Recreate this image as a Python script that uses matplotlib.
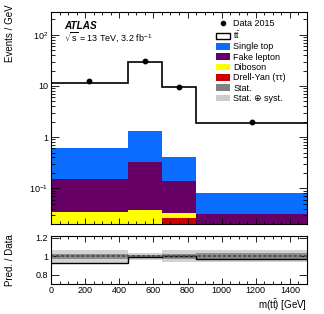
import matplotlib
matplotlib.use("Agg")
import matplotlib.pyplot as plt
from matplotlib.lines import Line2D
from matplotlib.patches import Patch
from matplotlib.ticker import MultipleLocator, LogLocator, FixedLocator, FuncFormatter, NullFormatter
import numpy as np

plt.rcParams["font.family"] = ["Liberation Sans", "DejaVu Sans"]
plt.rcParams["mathtext.fontset"] = "custom"
plt.rcParams["mathtext.rm"] = "Liberation Sans"
plt.rcParams["mathtext.it"] = "Liberation Sans:italic"
plt.rcParams["mathtext.bf"] = "Liberation Sans:bold"

# m(ttbar) binning [GeV]
bin_edges = [0, 450, 650, 850, 1500]

# stacked predictions, events / GeV
drell_yan = [0.012, 0.014, 0.0266, 0.004]
diboson = [0.022, 0.024, 0.0064, 0.004]
fake_lepton = [0.116, 0.292, 0.106, 0.023]
single_top = [0.45, 1.0, 0.27, 0.05]
ttbar = [11.0, 28.67, 9.29, 1.82]

data_2015 = [12.5, 30.2, 9.7, 1.95]

# relative uncertainties on the prediction
stat_unc = [0.025, 0.015, 0.03, 0.04]
total_unc = [0.07, 0.04, 0.065, 0.065]

FS = 6.5
W, H = 324, 314

edges = np.array(bin_edges, dtype=float)
centers = 0.5 * (edges[1:] + edges[:-1])

fig = plt.figure(figsize=(W / 100, H / 100), dpi=100)
ax = fig.add_axes([51 / W, 1 - 224 / H, 256 / W, 212 / H])
rax = fig.add_axes([51 / W, 1 - 284 / H, 256 / W, 48 / H])

# stack, bottom to top
layers = [
    (drell_yan, "#cc0000"),
    (diboson, "#ffff00"),
    (fake_lepton, "#660066"),
    (single_top, "#0a6dff"),
    (ttbar, "white"),
]
bottom = np.full(4, 1e-6)
for values, color in layers:
    top = bottom + np.asarray(values)
    ax.stairs(top, edges, baseline=bottom, fill=True, color=color, lw=0)
    bottom = top
pred_total = bottom

ax.stairs(pred_total, edges, baseline=None, color="black", lw=1.2)
ax.plot(centers, data_2015, "o", color="black", ms=3.2, zorder=5)

ax.set_yscale("log")
ax.set_xlim(0, 1500)
ax.set_ylim(0.02, 280)


def log_fmt(v, pos):
    if np.isclose(v, 1):
        return "1"
    if np.isclose(v, 10):
        return "10"
    return r"10$^{%d}$" % int(round(np.log10(v)))


ax.yaxis.set_major_locator(LogLocator(base=10, numticks=10))
ax.yaxis.set_major_formatter(FuncFormatter(log_fmt))
ax.yaxis.set_minor_locator(LogLocator(base=10, subs=np.arange(2, 10), numticks=20))
ax.yaxis.set_minor_formatter(NullFormatter())
ax.xaxis.set_major_locator(MultipleLocator(200))
ax.xaxis.set_minor_locator(MultipleLocator(50))
ax.tick_params(axis="x", labelbottom=False)

for a in (ax, rax):
    a.tick_params(which="both", direction="in", top=True, right=True, labelsize=FS, width=0.6, pad=2)
    a.tick_params(axis="x", which="major", length=4, pad=1.5)
    a.tick_params(axis="x", which="minor", length=2)
    a.tick_params(axis="y", which="major", length=5.5)
    a.tick_params(axis="y", which="minor", length=3)
    for s in a.spines.values():
        s.set_linewidth(0.8)

# ratio panel
pred_over_data = pred_total / np.asarray(data_2015)
tot = np.asarray(total_unc)
st = np.asarray(stat_unc)
rax.stairs(1 + tot, edges, baseline=1 - tot, fill=True, color="#d2d2d2", lw=0)
rax.stairs(1 + st, edges, baseline=1 - st, fill=True, color="#8c8c8c", lw=0)
rax.axhline(1, color="#505050", lw=1.4, ls=(0, (1.6, 1.0)))
rax.stairs(pred_over_data, edges, baseline=None, color="black", lw=1.0)
rax.set_xlim(0, 1500)
rax.set_ylim(0.7, 1.22)
rax.yaxis.set_major_locator(FixedLocator([0.8, 1.0, 1.2]))
rax.yaxis.set_major_formatter(FuncFormatter(lambda v, p: "%g" % round(v, 2)))
rax.xaxis.set_major_locator(MultipleLocator(200))
rax.xaxis.set_minor_locator(MultipleLocator(50))

# labels
fig.text(10 / W, 1 - 4 / H, "Events / GeV", rotation=90, ha="center", va="top", fontsize=FS + 0.5)
fig.text(10 / W, 1 - 260 / H, "Pred. / Data", rotation=90, ha="center", va="center", fontsize=FS + 0.5)
fig.text(307 / W, 1 - 305 / H, r"m($\mathrm{t\bar{t}}$) [GeV]", ha="right", va="center", fontsize=FS + 0.5)
fig.text(64 / W, 1 - 26 / H, "ATLAS", fontsize=FS + 0.7, fontweight="bold", fontstyle="italic", va="center")
fig.text(64 / W, 1 - 37 / H, r"$\sqrt{\mathrm{s}}$ = 13 TeV, 3.2 fb$^{-1}$", fontsize=FS, va="center")

handles = [
    Line2D([], [], marker="o", color="black", ls="none", ms=3.0),
    Patch(facecolor="white", edgecolor="black", lw=1.0),
    Patch(facecolor="#0a6dff"),
    Patch(facecolor="#660066"),
    Patch(facecolor="#ffff00"),
    Patch(facecolor="#cc0000"),
    Patch(facecolor="#808080"),
    Patch(facecolor="#cccccc"),
]
labels = ["Data 2015", r"$\mathrm{t\bar{t}}$", "Single top", "Fake lepton", "Diboson",
          "Drell-Yan (ττ)", "Stat.", "Stat. ⊕ syst."]
fig.legend(handles, labels, loc="upper left", bbox_to_anchor=(216 / W, 1 - 19 / H),
           frameon=False, fontsize=FS, borderpad=0, borderaxespad=0, handlelength=1.55,
           handleheight=0.75, handletextpad=0.35, labelspacing=0.15)

fig.savefig("out.png", dpi=100)
